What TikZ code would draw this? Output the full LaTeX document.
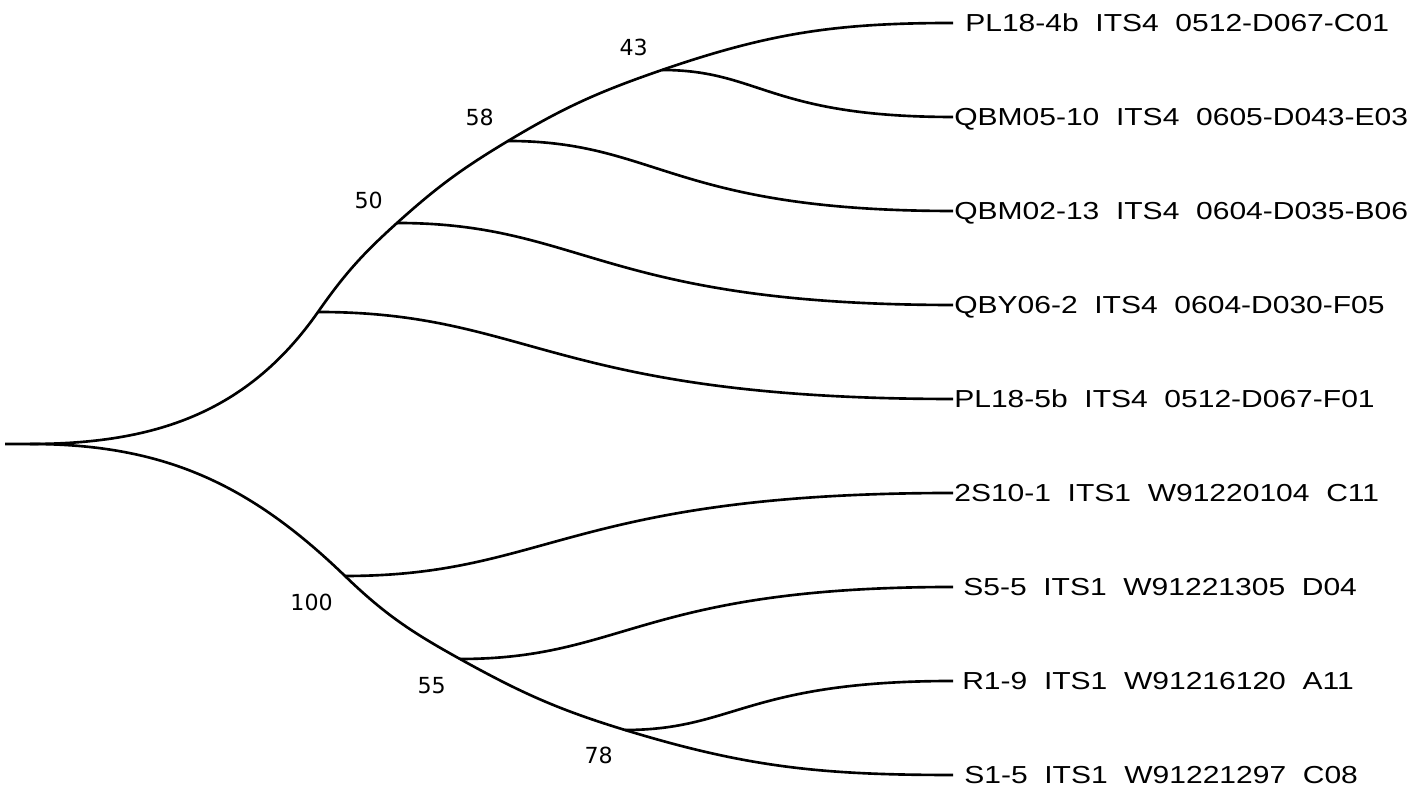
\documentclass[tikz,border=0pt]{standalone}
\usepackage{fontspec}
\newfontfamily\leaffont[FakeStretch=1.22,WordSpace=2]{Liberation Sans}
\newfontfamily\bootfont{DejaVu Sans}
\usetikzlibrary{positioning}
\tikzset{>=latex}

\begin{document}
\begin{tikzpicture}[x=0.02cm, y=0.02cm, line width=1.5pt,
    leaf/.style = {anchor=west, inner sep=0pt, text height=10pt, text depth=0pt, font=\leaffont\fontsize{14}{16}\selectfont},
    boot/.style = {inner sep=0pt, font=\bootfont\fontsize{12.6}{14}\selectfont},
    branch/.style = {out=0, in=180, out looseness=0.85, in looseness=1.6}]
    \useasboundingbox (0,0) rectangle (1418,793);
    \coordinate (tip) at (5,349);
    \coordinate (R) at (30,349);
    \coordinate (U1) at (318,481);
    \coordinate (U2) at (397,570);
    \coordinate (U3) at (508,652);
    \coordinate (U4) at (662,723);
    \coordinate (L1) at (345,217);
    \coordinate (L2) at (460,134);
    \coordinate (L3) at (625,63);
    \foreach \i/\dx/\txt in {1/2.2mm/PL18-4b  ITS4  0512-D067-C01,
                             2/0mm/QBM05-10  ITS4  0605-D043-E03,
                             3/0mm/QBM02-13  ITS4  0604-D035-B06,
                             4/0mm/QBY06-2  ITS4  0604-D030-F05,
                             5/0mm/PL18-5b  ITS4  0512-D067-F01,
                             6/0mm/2S10-1  ITS1  W91220104  C11,
                             7/1.8mm/S5-5  ITS1  W91221305  D04,
                             8/1.6mm/R1-9  ITS1  W91216120  A11,
                             9/2mm/S1-5  ITS1  W91221297  C08}
    {%
        \pgfmathtruncatemacro{\y}{864 - 94*\i};
        \coordinate (leaf\i) at (953,\y);
        \node[leaf, xshift=\dx] (lab\i) at (leaf\i) {\txt};
    };
    \draw (tip) -- (R) to[out=0,in=235] (U1) to[out=55,in=222] (U2) to[out=42,in=211] (U3) to[out=31,in=199] (U4) to[out=19,in=180] (leaf1);
    \draw (R) to[out=0,in=136] (L1) to[out=-44,in=151] (L2) to[out=-29,in=163] (L3) to[out=-17,in=180] (leaf9);
    \draw (U4) to[branch] (leaf2);
    \draw (U3) to[branch] (leaf3);
    \draw (U2) to[branch] (leaf4);
    \draw (U1) to[branch] (leaf5);
    \draw (L1) to[branch] (leaf6);
    \draw (L2) to[branch] (leaf7);
    \draw (L3) to[branch] (leaf8);
    \node[boot, above left=2.6mm and 2.6mm of U4] (b43) {43};
    \node[boot, above left=2.8mm and 2.6mm of U3] (b58) {58};
    \node[boot, above left=2.6mm and 2.6mm of U2] (b50) {50};
    \node[boot, below left=3.4mm and 2.2mm of L1] (b100) {100};
    \node[boot, below left=3.4mm and 2.6mm of L2] (b55) {55};
    \node[boot, below left=3.2mm and 2.2mm of L3] (b78) {78};
\end{tikzpicture}
\end{document}
